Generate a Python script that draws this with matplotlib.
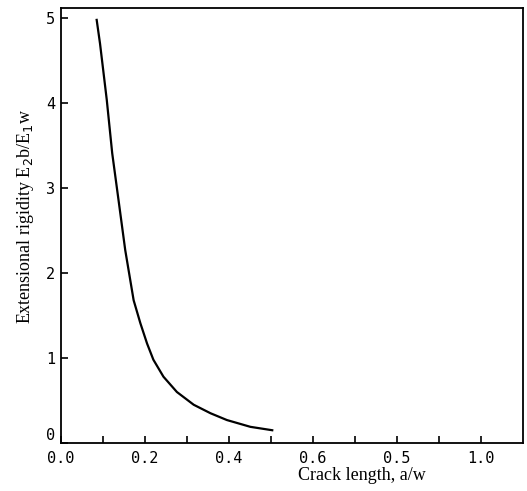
import matplotlib.pyplot as plt

# crack length a/w and extensional rigidity E2b/E1w
crack_len = [0.085, 0.093, 0.109, 0.122, 0.137, 0.153, 0.173, 0.189, 0.205,
             0.220, 0.244, 0.276, 0.316, 0.356, 0.395, 0.451, 0.503]
rigidity = [4.98, 4.70, 4.04, 3.41, 2.86, 2.27, 1.68, 1.41, 1.17,
            0.98, 0.78, 0.60, 0.45, 0.35, 0.27, 0.19, 0.15]

x_ticks = [0.0, 0.1, 0.2, 0.3, 0.4, 0.5, 0.6, 0.7, 0.8, 0.9, 1.0]
x_tick_labels = ['0.0', '', '0.2', '', '0.4', '', '0.6', '', '0.5', '', '1.0']
y_ticks = [0, 1, 2, 3, 4, 5]
y_tick_labels = ['0', '1', '2', '3', '4', '5']

fig = plt.figure(figsize=(5.27, 4.91), dpi=100)
ax = fig.add_axes([0.1157, 0.0978, 0.8767, 0.8859])

ax.plot(crack_len, rigidity, color='black', linewidth=1.6)

ax.set_xlim(0, 1.1)
ax.set_ylim(0, 5.12)
ax.set_xticks(x_ticks)
ax.set_xticklabels(x_tick_labels, family='DejaVu Sans Mono', fontsize=11)
ax.set_yticks(y_ticks)
ax.set_yticklabels(y_tick_labels, family='DejaVu Sans Mono', fontsize=11)
ax.tick_params(direction='in', length=5, width=1.2)
ax.tick_params(axis='x', pad=6)
ax.tick_params(axis='y', pad=4)
# the zero on the y axis sits just above the corner
ax.get_yticklabels()[0].set_va('bottom')

for s in ax.spines.values():
    s.set_linewidth(1.3)

fig.text(362 / 527, 1 - 475 / 491, 'Crack length, a/w', family='Liberation Serif',
         fontsize=13, ha='center', va='center')
fig.text(26 / 527, 1 - 216 / 491, 'Extensional rigidity E$_2$b/E$_1$w',
         family='Liberation Serif', fontsize=13, rotation=90,
         ha='center', va='center')

fig.savefig('out.png', dpi=100)
